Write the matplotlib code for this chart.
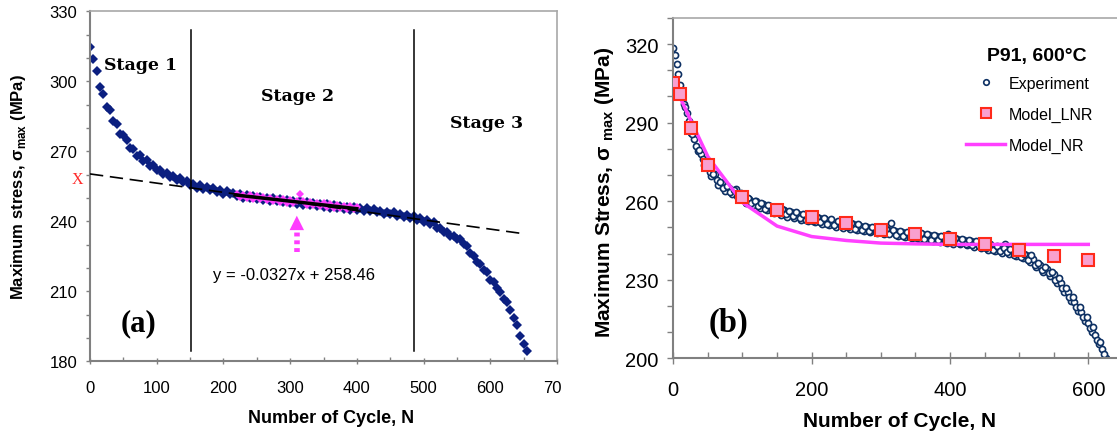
import matplotlib
matplotlib.use('Agg')
import matplotlib.pyplot as plt
from matplotlib.ticker import MultipleLocator, FixedLocator
from matplotlib.patches import Rectangle
from matplotlib.lines import Line2D

plt.rcParams['font.family'] = ['Liberation Sans', 'DejaVu Sans']

# ---- (a) 実験データ (N, 最大応力) ----
cycles_a = list(range(0, 656, 5))
stress_a = [314.5, 309.5, 304.5, 297.5, 294.5, 289.0, 287.5, 283.0, 281.5, 277.5,
            277.0, 275.0, 271.5, 270.8, 268.2, 268.3, 265.8, 266.2, 263.8, 264.0,
            261.8, 262.2, 260.3, 260.6, 258.8, 259.6, 257.9, 258.6, 256.9, 257.2,
            255.4, 256.1, 254.4, 255.5, 253.9, 254.6, 253.4, 254.1, 252.6, 253.5,
            251.9, 253.0, 251.5, 252.1, 250.7, 251.6, 250.2, 251.1, 249.9, 250.8,
            249.5, 250.6, 249.1, 250.2, 248.9, 249.8, 248.5, 249.6, 248.2, 249.3,
            247.9, 248.9, 247.6, 248.6, 247.2, 248.3, 246.9, 248.0, 246.6, 247.6,
            246.3, 247.3, 245.9, 247.0, 245.6, 246.6, 245.3, 246.3, 245.0, 246.0,
            244.7, 245.9, 244.6, 245.8, 244.4, 245.2, 243.8, 244.6, 243.3, 244.2,
            243.0, 243.8, 242.4, 243.3, 241.9, 242.9, 241.5, 242.4, 240.6, 241.3,
            239.6, 240.5, 238.7, 239.6, 237.0, 237.3, 235.4, 235.6, 233.6, 233.9,
            232.3, 232.6, 230.4, 229.4, 226.3, 225.2, 222.6, 221.9, 219.3, 218.2,
            215.0, 213.9, 211.3, 209.8, 206.5, 205.3, 202.0, 198.5, 195.5, 191.0,
            187.5, 184.5]

# 回帰に使った区間 (ピンク)
fit_cycles = list(range(220, 401, 5))
fit_stress = [251.8, 250.6, 251.4, 250.1, 251.2, 249.7, 250.7, 249.5, 250.4, 249.0,
              250.0, 248.8, 249.7, 248.4, 249.4, 248.0, 249.2, 247.8, 248.8, 251.7,
              248.5, 247.2, 248.3, 246.9, 247.9, 246.6, 247.7, 246.3, 247.3, 245.9,
              247.0, 245.6, 246.7, 245.3, 246.4, 245.1, 246.1]
fit_line_x = [217.5, 400]
fit_line_y = [251.3, 245.4]
extrap_x = [0, 652]
extrap_y = [260.3, 234.6]
stage_bounds = [151, 485]

# ---- (b) 実験とモデル ----
cycles_b = list(range(0, 626, 5))
stress_b = [318.5, 312.5, 304.5, 297.0, 293.5, 286.0, 283.8, 279.2, 278.0, 273.8,
            273.3, 269.6, 270.2, 266.0, 266.8, 264.0, 265.2, 262.6, 264.5, 261.4,
            261.9, 259.4, 260.8, 258.4, 259.9, 257.5, 259.0, 256.6, 258.0, 255.6,
            257.2, 254.8, 256.5, 254.0, 255.8, 253.4, 255.2, 252.8, 254.6, 252.4,
            254.2, 251.9, 253.6, 251.3, 253.1, 250.8, 252.6, 250.3, 252.1, 249.8,
            251.7, 249.3, 251.2, 248.9, 250.7, 248.5, 250.3, 248.1, 249.9, 247.7,
            249.5, 247.3, 249.1, 251.5, 248.7, 246.6, 248.4, 246.2, 248.0, 245.9,
            247.7, 245.5, 247.3, 245.2, 247.0, 244.8, 246.6, 244.5, 246.2, 244.1,
            245.9, 243.8, 245.6, 243.5, 245.3, 243.1, 244.8, 242.6, 244.3, 242.0,
            243.6, 241.4, 243.0, 240.9, 242.4, 240.3, 243.5, 239.7, 241.3, 239.0,
            240.5, 238.2, 239.3, 236.8, 237.8, 235.0, 235.6, 233.0, 234.0, 231.6,
            232.2, 228.8, 228.6, 225.4, 225.3, 221.9, 221.5, 218.0, 217.5, 214.1,
            213.4, 209.9, 208.8, 205.3, 203.5, 200.0]
# 中間サイクルの読み取り値 (2.5, 7.5, ...)
cycles_b2 = [c + 2.5 for c in range(0, 625, 5)]
stress_b2 = [316.0, 308.5, 301.5, 296.0, 290.5, 285.5, 281.0, 279.5, 276.0, 274.5,
             271.0, 270.5, 268.0, 267.5, 265.0, 265.8, 263.6, 264.2, 262.0, 263.0,
             260.5, 261.4, 259.2, 260.2, 258.2, 259.4, 257.2, 258.6, 256.3, 257.8,
             255.6, 257.0, 255.0, 256.3, 254.3, 255.8, 253.7, 255.2, 253.0, 254.8,
             252.6, 254.1, 252.0, 253.6, 251.4, 253.1, 251.0, 252.5, 250.4, 252.0,
             250.0, 251.5, 249.5, 251.1, 249.0, 250.7, 248.6, 250.3, 248.2, 249.8,
             247.8, 249.5, 247.5, 249.0, 247.1, 248.7, 246.7, 248.4, 246.4, 248.0,
             246.0, 247.7, 245.7, 247.4, 245.3, 247.0, 245.0, 246.7, 244.6, 247.5,
             244.4, 246.0, 244.0, 245.7, 243.7, 245.3, 243.2, 244.8, 242.7, 244.2,
             242.0, 243.6, 241.5, 243.0, 240.9, 242.3, 240.6, 241.8, 239.6, 241.0,
             238.6, 239.8, 237.4, 239.5, 235.6, 236.5, 233.8, 234.8, 232.4, 233.0,
             230.0, 230.8, 226.8, 227.0, 223.4, 223.6, 219.6, 219.6, 215.6, 215.8,
             211.5, 211.8, 207.0, 206.4, 201.5]

lnr_cycles = [0, 10, 25, 50, 100, 150, 200, 250, 300, 350, 400, 450, 500, 550, 600]
lnr_stress = [305.0, 301.0, 288.0, 274.0, 261.5, 256.5, 254.0, 251.5, 249.0, 247.5,
              245.5, 243.5, 241.5, 239.0, 237.5]

nr_cycles = [10, 25, 50, 100, 150, 200, 250, 300, 350, 400, 450, 500, 550, 600]
nr_stress = [299.5, 291.0, 277.0, 259.5, 250.5, 246.5, 245.0, 244.0, 243.7, 243.5,
             243.5, 243.5, 243.5, 243.5]

navy = '#0b1f80'
pink = '#ff3cff'
dark = '#0d3063'
spine_c = '#808080'

fig = plt.figure(figsize=(11.17, 4.35), dpi=100)
W, H = 1117, 435
ax1 = fig.add_axes([90 / W, 1 - 362.3 / H, 467 / W, 350 / H])
ax2 = fig.add_axes([673.3 / W, 1 - 359.3 / H, 443.7 / W, 340.4 / H])

# ================= (a) =================
ax1.plot(cycles_a, stress_a, 'D', color=navy, ms=4.6, mew=0, zorder=2)
ax1.plot(fit_cycles, fit_stress, 'D', color=pink, ms=4.2, mew=0, zorder=3)
ax1.plot(fit_line_x, fit_line_y, color='black', lw=2.5, zorder=4)
ax1.plot(extrap_x, extrap_y, color='black', lw=1.2, ls=(0, (8, 4)), zorder=3)
for b in stage_bounds:
    ax1.plot([b, b], [184.3, 322], color='black', lw=1.1, zorder=4)

ax1.plot([310, 310], [226.7, 238.0], color=pink, lw=4, ls=(0, (0.7, 0.7)),
         solid_capstyle='butt', zorder=4)
ax1.annotate('', xy=(310, 242.4), xytext=(310, 236.5),
             arrowprops=dict(arrowstyle='-|>', color=pink, lw=0,
                             mutation_scale=26, shrinkA=0, shrinkB=0))
ax1.text(306, 217, 'y = -0.0327x + 258.46', fontsize=12, ha='center', va='center')

stage_font = dict(family='DejaVu Serif', weight='bold', fontsize=12.5,
                  ha='left', va='center')
ax1.text(21.5, 307.1, 'Stage 1', **stage_font)
ax1.text(257, 294.1, 'Stage 2', **stage_font)
ax1.text(540, 282.4, 'Stage 3', **stage_font)
ax1.text(72.5, 196.7, '(a)', family='Liberation Serif', weight='bold',
         fontsize=22, ha='center', va='center')
ax1.text(-18.5, 258.1, 'X', family='Liberation Serif', color='#ff2a2a',
         fontsize=11.5, ha='center', va='center', clip_on=False)

ax1.set_xlim(0, 700)
ax1.set_ylim(180, 330)
ax1.xaxis.set_major_locator(MultipleLocator(100))
ax1.xaxis.set_minor_locator(MultipleLocator(50))
ax1.yaxis.set_major_locator(MultipleLocator(30))
ax1.yaxis.set_minor_locator(MultipleLocator(10))
ax1.tick_params(axis='x', which='major', direction='inout', length=4.5, width=1,
                color=spine_c, labelsize=12, pad=11.5)
ax1.tick_params(axis='x', which='minor', direction='in', length=3, width=1,
                color=spine_c)
ax1.tick_params(axis='y', which='both', direction='out', length=3, width=1,
                color=spine_c, labelsize=12, pad=6)
ax1.set_xlabel('Number of Cycle, N', fontsize=13, weight='bold', va='center')
ax1.set_ylabel(r'Maximum stress, σ$_{\mathregular{max}}$ (MPa)', fontsize=12,
               weight='bold', va='center')
ax1.xaxis.set_label_coords(0.516, -0.16)
ax1.yaxis.set_label_coords(-0.154, 0.5)
for s in ['left', 'bottom']:
    ax1.spines[s].set_color(spine_c)
    ax1.spines[s].set_linewidth(1.5)
for s in ['top', 'right']:
    ax1.spines[s].set_color('#a8a8a8')
    ax1.spines[s].set_linewidth(1.2)

# 右端の "700" は元画像の切れ目で途中まで
fig.patches.append(Rectangle((561 / W, 1 - 400 / H), 30 / W, 25 / H,
                             transform=fig.transFigure, facecolor='white',
                             edgecolor='none', zorder=5))

# ================= (b) =================
ax2.plot(cycles_b, stress_b, 'o', mfc='white', mec=dark, ms=4.4, mew=1.2, zorder=2)
ax2.plot(cycles_b2, stress_b2, 'o', mfc='white', mec=dark, ms=4.4, mew=1.2, zorder=2)
ax2.plot(nr_cycles, nr_stress, color='#ff40ff', lw=2.5, zorder=3)
ax2.plot(lnr_cycles, lnr_stress, 's', mfc='#f9a0cf', mec='#ff2a1a', ms=8.5,
         mew=1.5, zorder=4)

ax2.text(79.5, 213.8, '(b)', family='Liberation Serif', weight='bold',
         fontsize=23.5, ha='center', va='center')
fig.text(1036.7 / W, 1 - 56 / H, 'P91, 600°C', fontsize=14, weight='bold',
         ha='center', va='center')

handles = [Line2D([], [], ls='none', marker='o', mfc='white', mec=dark, ms=4, mew=1.2),
           Line2D([], [], ls='none', marker='s', mfc='#f9a0cf', mec='#ff2a1a',
                  ms=7, mew=1.5),
           Line2D([], [], color='#ff40ff', lw=2.5)]
ax2.legend(handles, ['Experiment', 'Model_LNR', 'Model_NR'], loc='upper left',
           bbox_to_anchor=(966 / W, 1 - 77 / H), bbox_transform=fig.transFigure,
           frameon=False, fontsize=11.5, borderpad=0, borderaxespad=0,
           handlelength=2.45, handletextpad=0.25, labelspacing=1.0)

ax2.set_xlim(0, 641.5)
ax2.set_ylim(200, 330)
ax2.xaxis.set_major_locator(MultipleLocator(200))
ax2.xaxis.set_minor_locator(MultipleLocator(50))
ax2.yaxis.set_major_locator(FixedLocator([200, 230, 260, 290, 320]))
ax2.yaxis.set_minor_locator(MultipleLocator(10))
ax2.tick_params(axis='x', which='major', direction='inout', length=8.5, width=1,
                color=spine_c, labelsize=14.5, pad=11.3)
ax2.tick_params(axis='x', which='minor', direction='in', length=4.3, width=1,
                color=spine_c)
ax2.tick_params(axis='y', which='both', direction='out', length=4.3, width=1,
                color=spine_c, labelsize=14.5, pad=6.5)
ax2.set_xlabel('Number of Cycle, N', fontsize=15, weight='bold', va='center')
ax2.set_ylabel(r'Maximum Stress, σ $_{\mathregular{max}}$ (MPa)', fontsize=15,
               weight='bold', va='center')
ax2.xaxis.set_label_coords(0.509, -0.183)
ax2.yaxis.set_label_coords(-0.154, 0.49)
for s in ['left', 'bottom']:
    ax2.spines[s].set_color(spine_c)
    ax2.spines[s].set_linewidth(1.5)
ax2.spines['top'].set_color('#a8a8a8')
ax2.spines['top'].set_linewidth(1.2)
ax2.spines['right'].set_visible(False)

fig.savefig('out.png', dpi=100)
